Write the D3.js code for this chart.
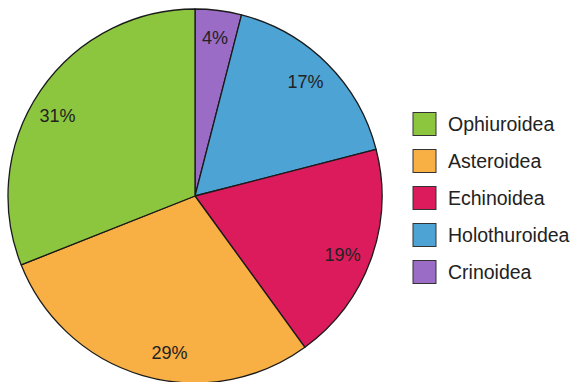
<!DOCTYPE html>
<html>
<head>
<meta charset="utf-8">
<script src="https://cdn.jsdelivr.net/npm/d3@7"></script>
<style>
  body { margin: 0; background: #fff; }
  svg { display: block; font-family: "Liberation Sans", Arial, sans-serif; }
</style>
</head>
<body>
<div id="container"></div>
<script>
// data, clockwise from 12 o'clock
const classes = ["Crinoidea", "Holothuroidea", "Echinoidea", "Asteroidea", "Ophiuroidea"];
const shares = [4, 17, 19, 29, 31];
const colors = ["#9b6cc6", "#4da3d4", "#db1b5b", "#f8af44", "#8cc63f"];

// legend order (top to bottom)
const legendOrder = ["Ophiuroidea", "Asteroidea", "Echinoidea", "Holothuroidea", "Crinoidea"];

// small angle nudges (degrees) for the percent labels, same order as classes
const labelNudge = [0, -1, 2, -7, -4];

const width = 577, height = 382;
const cx = 195, cy = 196, radius = 187;

const svg = d3.select("#container")
  .append("svg")
  .attr("width", width)
  .attr("height", height);

const color = d3.scaleOrdinal().domain(classes).range(colors);

const pie = d3.pie().sort(null).value(d => d.v);
const arcs = pie(classes.map((c, i) => ({ name: c, v: shares[i], i })));

const arc = d3.arc().innerRadius(0).outerRadius(radius);

const g = svg.append("g").attr("transform", `translate(${cx},${cy})`);

g.selectAll("path.slice")
  .data(arcs)
  .join("path")
  .attr("class", "slice")
  .attr("d", arc)
  .attr("fill", d => color(d.data.name))
  .attr("stroke", "#1a1a1a")
  .attr("stroke-width", 1.3)
  .attr("stroke-linejoin", "round");

// percent labels
const labelR = 159;
const labelAngle = d => (d.startAngle + d.endAngle) / 2 + labelNudge[d.data.i] * Math.PI / 180;

g.selectAll("text.pct")
  .data(arcs)
  .join("text")
  .attr("class", "pct")
  .attr("x", d => Math.sin(labelAngle(d)) * labelR)
  .attr("y", d => -Math.cos(labelAngle(d)) * labelR)
  .attr("text-anchor", "middle")
  .attr("dominant-baseline", "central")
  .attr("font-size", 18)
  .attr("fill", "#222")
  .text(d => d.data.v + "%");

// legend
const legendY = d3.scalePoint()
  .domain(legendOrder)
  .range([124, 272]);

const items = svg.append("g")
  .selectAll("g.item")
  .data(legendOrder)
  .join("g")
  .attr("class", "item")
  .attr("transform", d => `translate(413,${legendY(d)})`);

items.append("rect")
  .attr("x", 0)
  .attr("y", -11.5)
  .attr("width", 23)
  .attr("height", 23)
  .attr("fill", d => color(d))
  .attr("stroke", "#333")
  .attr("stroke-width", 1);

items.append("text")
  .attr("x", 35)
  .attr("y", 0)
  .attr("dominant-baseline", "central")
  .attr("font-size", 19.5)
  .attr("fill", "#222")
  .text(d => d);
</script>
</body>
</html>
